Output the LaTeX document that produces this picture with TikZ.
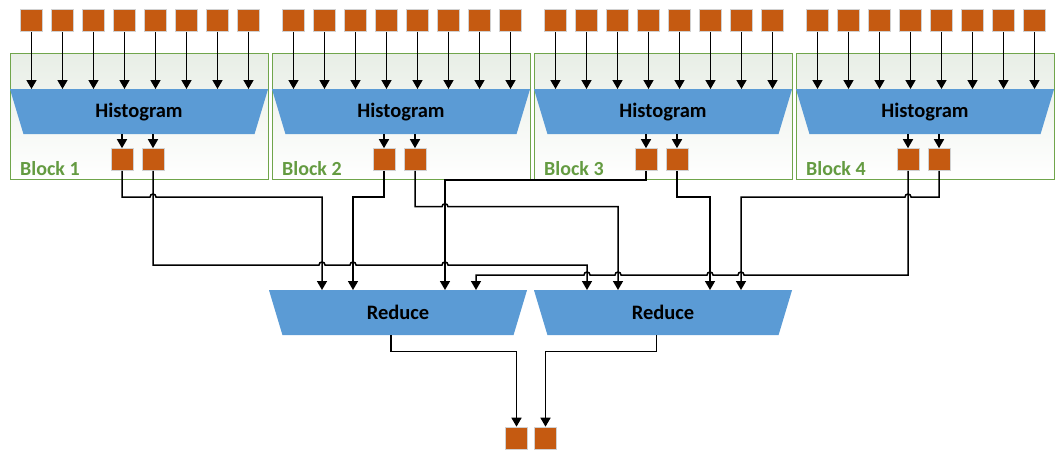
\documentclass[tikz,border=0pt]{standalone}
\usepackage{fontspec}
\setmainfont{Carlito}
\usetikzlibrary{calc,shapes,arrows.meta,positioning}
\definecolor{cellorange}{RGB}{197,90,17}
\definecolor{unitblue}{RGB}{91,155,213}
\definecolor{blockgreen}{RGB}{112,165,75}
\definecolor{labelgreen}{RGB}{100,155,65}
\definecolor{blockshade}{RGB}{232,238,230}
\tikzset{%
  cell/.style={rectangle,minimum size=22pt,inner sep=0pt,fill=cellorange,draw=black!18,line width=0.6pt},
  unit/.style={rectangle,minimum width=258pt,minimum height=45pt,inner sep=0pt,
    font=\fontsize{20.5}{24}\selectfont\bfseries,
    path picture={\fill [unitblue] (path picture bounding box.north west)
      -- (path picture bounding box.north east)
      -- ([xshift=-13.5pt]path picture bounding box.south east)
      -- ([xshift=13.5pt]path picture bounding box.south west) -- cycle;}},
  block/.style={rectangle,minimum width=258pt,minimum height=126pt,draw=blockgreen,
    line width=0.8pt,top color=blockshade,middle color=white,bottom color=white},
  blocklabel/.style={anchor=base west,inner sep=0pt,text=labelgreen,
    font=\fontsize{20}{24}\selectfont\bfseries},
  wire/.style={line width=1.5pt},
  flow/.style={wire,-{Triangle[width=10pt,length=9pt]}}
}

\begin{document}
\begin{tikzpicture}[x=1pt,y=-1pt,node distance=31pt]
  \useasboundingbox (0,0) rectangle (1064,456);

  \foreach \k in {1,...,4} {
    \node [block] (blk\k) at ({139+262*(\k-1)},116) {};
    \node [unit] (hist\k) at ({139+262*(\k-1)},111.7) {Histogram};
    \node [cell] (in\k-1) at ({31.5+262*(\k-1)},20.5) {};
    \foreach \i [count=\j] in {2,...,8}
      \node [cell] (in\k-\i) [right of=in\k-\j] {};
    \foreach \i in {1,...,8}
      \draw [flow] (in\k-\i) -- (in\k-\i |- hist\k.north);
    \node [cell] (out\k-1) at ({122+262*(\k-1)},159.5) {};
    \node [cell] (out\k-2) [right of=out\k-1] {};
    \draw [flow] (out\k-1 |- hist\k.south) -- (out\k-1);
    \draw [flow] (out\k-2 |- hist\k.south) -- (out\k-2);
    \node [blocklabel] (lbl\k) at ({20+262*(\k-1)},175.7) {Block \k};
  }

  \node [unit] (red1) at (398,312.7) {Reduce};
  \node [unit] (red2) at (663,312.7) {Reduce};
  \foreach \r in {1,2} {
    \coordinate (red\r-in1) at ([xshift=-76pt]red\r.north);
    \coordinate (red\r-in2) at ([xshift=-45pt]red\r.north);
    \coordinate (red\r-in3) at ([xshift=47pt]red\r.north);
    \coordinate (red\r-in4) at ([xshift=78pt]red\r.north);
  }

  % block outputs to the reduce inputs, hopping over crossed wires
  \draw [flow] (out1-1) |- (150,197) arc[start angle=180,end angle=360,radius=3] -| (red1-in1);
  \draw [flow] (out1-2) |- (319,265) arc[start angle=180,end angle=360,radius=3]
    -- (350,265) arc[start angle=180,end angle=360,radius=3]
    -- (442,265) arc[start angle=180,end angle=360,radius=3] -| (red2-in1);
  \draw [flow] (out2-1) |- (353,197) -- (red1-in2);
  \draw [flow] (out2-2) |- (442,206.7) arc[start angle=180,end angle=360,radius=3] -| (red2-in2);
  \draw [flow] (out3-1) |- (445,180) -- (red1-in3);
  \draw [flow] (out3-2) |- (710,197) -- (red2-in3);
  \draw [flow] (out4-1) |- (744,275) arc[start angle=0,end angle=-180,radius=3]
    -- (713,275) arc[start angle=0,end angle=-180,radius=3]
    -- (621,275) arc[start angle=0,end angle=-180,radius=3]
    -- (590,275) arc[start angle=0,end angle=-180,radius=3] -| (red1-in4);
  \draw [flow] (out4-2) |- (911,197) arc[start angle=0,end angle=-180,radius=3] -| (red2-in4);

  \node [cell] (res1) at (516.5,438) {};
  \node [cell] (res2) [right of=res1,node distance=29pt] {};
  \draw [flow] ([xshift=-7pt]red1.south) -- ++(0,16) -| (res1);
  \draw [flow] ([xshift=-6.3pt]red2.south) -- ++(0,16) -| (res2);
\end{tikzpicture}
\end{document}
